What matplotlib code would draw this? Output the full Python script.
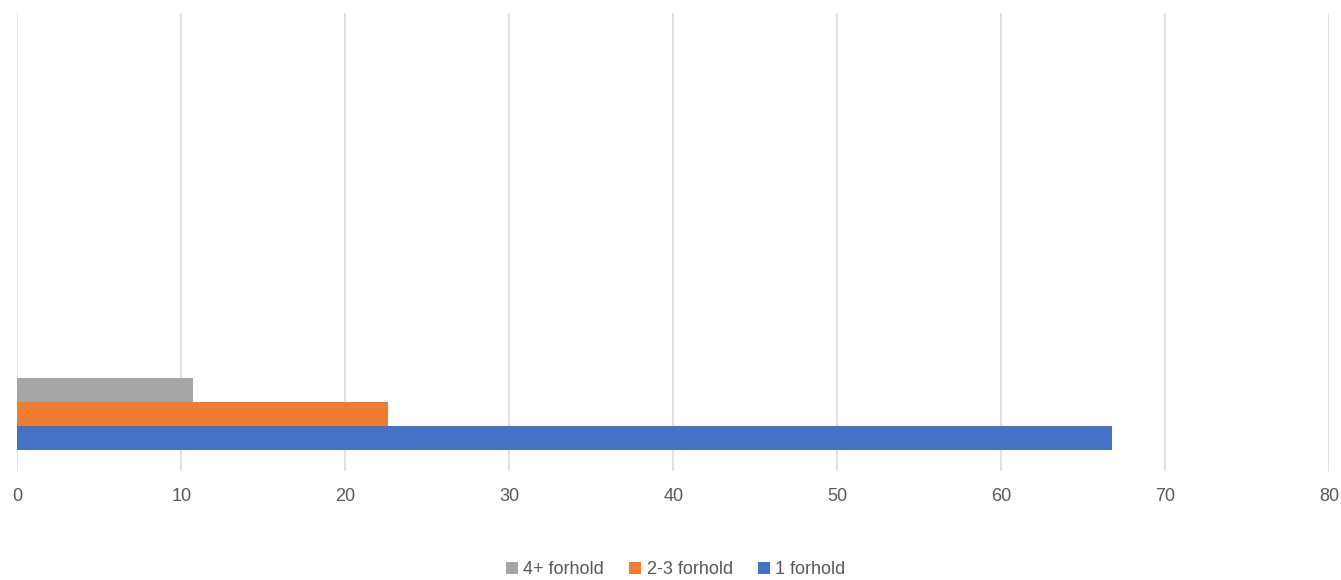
import numpy as np
import matplotlib
matplotlib.use("Agg")
import matplotlib.pyplot as plt

plt.rcParams['font.family'] = ['Liberation Sans', 'DejaVu Sans']

# four category slots, only the first one holds data
categories = ["", "", "", ""]
series_names = ["1 forhold", "2-3 forhold", "4+ forhold"]
one_rel = [66.75, np.nan, np.nan, np.nan]
two_three_rel = [22.6, np.nan, np.nan, np.nan]
four_plus_rel = [10.7, np.nan, np.nan, np.nan]
x_ticks = [0, 10, 20, 30, 40, 50, 60, 70, 80]

colors = ["#4472C4", "#ED7D31", "#A5A5A5"]
text_color = "#595959"

fig = plt.figure(figsize=(13.41, 5.80), dpi=100)
ax = fig.add_axes([0.0129, 0.1879, 0.9784, 0.7897])

y = np.arange(len(categories))
h = 0.21
values = [one_rel, two_three_rel, four_plus_rel]
for i, (name, vals) in enumerate(zip(series_names, values)):
    ax.barh(y + (i - 1) * h, vals, height=h, color=colors[i], label=name, zorder=3)

ax.set_xlim(0, 80)
ax.set_ylim(-0.5, 3.5)
ax.set_xticks(x_ticks)
ax.set_xticklabels([str(t) for t in x_ticks])
ax.set_yticks([])
ax.grid(axis="x", color="#D9D9D9", linewidth=1.1, zorder=0)
for s in ax.spines.values():
    s.set_visible(False)
ax.tick_params(axis="x", length=0, pad=12.5, labelsize=13, labelcolor=text_color)

handles, labels = ax.get_legend_handles_labels()
fig.legend(handles[::-1], labels[::-1], loc="center", bbox_to_anchor=(0.504, 0.018),
           ncol=3, frameon=False, fontsize=13, labelcolor=text_color,
           handlelength=0.65, handleheight=0.65, handletextpad=0.3, columnspacing=1.4)

fig.savefig("out.png", dpi=100)
plt.close(fig)
